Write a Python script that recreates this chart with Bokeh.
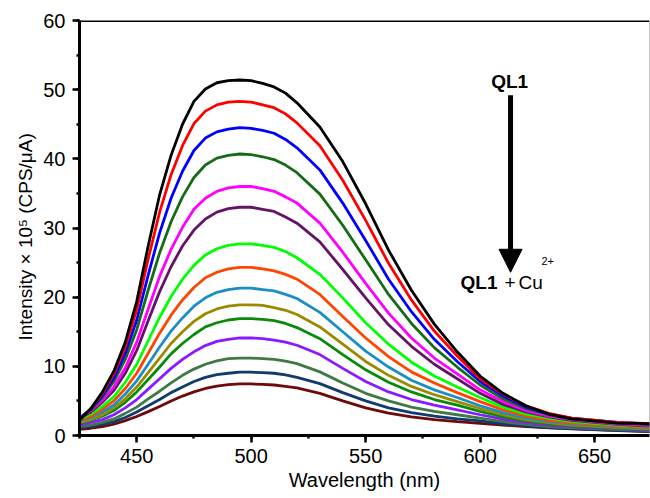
from bokeh.plotting import figure
from bokeh.models import Range1d, SingleIntervalTicker, Span, Arrow, NormalHead, Title
from bokeh.core.properties import value
from bokeh.embed import file_html
from bokeh.resources import INLINE

wavelength = [425, 430, 435, 440, 445, 450, 455, 460, 465, 470, 475, 480, 485, 490, 495,
              500, 505, 510, 515, 520, 530, 540, 550, 560, 570, 580, 590, 600, 610, 620,
              630, 640, 660, 675]

black = [2.2, 3.9, 6.3, 9.3, 13.5, 19.4, 27.4, 34.8, 40.5, 45.0, 48.3, 50.1, 51.0, 51.3, 51.4,
         51.3, 50.9, 50.4, 49.5, 48.1, 44.6, 39.6, 33.5, 26.8, 21.0, 16.1, 12.1, 8.6, 6.1, 4.3,
         3.1, 2.4, 1.8, 1.7]
red = [2.3, 3.9, 6.1, 8.9, 12.8, 18.2, 25.5, 32.3, 37.7, 41.9, 45.1, 46.9, 47.8, 48.2, 48.3,
       48.2, 47.8, 47.4, 46.5, 45.2, 41.9, 36.9, 31.1, 24.9, 19.6, 15.1, 11.5, 8.2, 6.0, 4.3,
       3.2, 2.5, 1.9, 1.7]
blue = [2.5, 3.8, 5.8, 8.3, 11.9, 16.7, 23.2, 29.3, 34.3, 38.2, 41.2, 43.0, 43.9, 44.3, 44.5,
        44.4, 44.1, 43.7, 42.8, 41.6, 38.4, 33.6, 28.2, 22.6, 17.9, 13.9, 10.7, 7.8, 5.7, 4.1,
        3.1, 2.5, 1.9, 1.65]
dark_green = [2.5, 3.7, 5.5, 7.8, 11.0, 15.3, 21.0, 26.4, 30.9, 34.5, 37.3, 39.1, 40.1, 40.5, 40.7,
              40.6, 40.3, 39.9, 39.1, 38.0, 34.9, 30.4, 25.4, 20.4, 16.2, 12.7, 9.9, 7.3, 5.3, 3.9,
              3.0, 2.4, 1.8, 1.55]
magenta = [2.5, 3.6, 5.1, 7.0, 9.8, 13.5, 18.3, 23.0, 26.9, 30.1, 32.7, 34.3, 35.3, 35.8, 36.0,
           36.0, 35.7, 35.3, 34.5, 33.6, 30.7, 26.5, 22.0, 17.7, 14.1, 11.2, 8.9, 6.6, 4.9, 3.6,
           2.8, 2.3, 1.7, 1.45]
purple = [2.5, 3.4, 4.8, 6.5, 9.0, 12.3, 16.6, 20.8, 24.4, 27.4, 29.7, 31.3, 32.3, 32.8, 33.0,
          33.0, 32.7, 32.4, 31.6, 30.7, 28.0, 24.0, 19.9, 16.0, 12.9, 10.3, 8.2, 6.1, 4.5, 3.4,
          2.7, 2.2, 1.6, 1.35]
lime = [2.4, 3.1, 4.2, 5.6, 7.7, 10.3, 13.7, 17.1, 20.1, 22.6, 24.6, 26.1, 27.0, 27.5, 27.7,
        27.7, 27.5, 27.2, 26.6, 25.7, 23.3, 19.9, 16.3, 13.2, 10.6, 8.6, 7.0, 5.5, 4.1, 3.1,
        2.5, 2.0, 1.5, 1.3]
orange_red = [2.2, 2.8, 3.8, 5.0, 6.8, 9.0, 11.9, 14.8, 17.4, 19.6, 21.4, 22.8, 23.6, 24.1, 24.3,
              24.3, 24.1, 23.8, 23.3, 22.6, 20.4, 17.2, 14.1, 11.4, 9.2, 7.6, 6.2, 4.9, 3.7, 2.8,
              2.2, 1.8, 1.35, 1.15]
steel_blue = [2.1, 2.6, 3.4, 4.4, 6.0, 7.9, 10.3, 12.8, 15.1, 17.0, 18.7, 19.9, 20.7, 21.1, 21.3,
              21.3, 21.1, 20.9, 20.4, 19.8, 17.8, 15.0, 12.2, 9.9, 8.0, 6.6, 5.5, 4.3, 3.3, 2.5,
              2.0, 1.65, 1.25, 1.05]
olive = [1.9, 2.3, 3.0, 4.0, 5.3, 7.0, 9.1, 11.2, 13.3, 15.0, 16.5, 17.6, 18.3, 18.7, 18.9,
         18.9, 18.8, 18.5, 18.1, 17.5, 15.7, 13.2, 10.7, 8.7, 7.1, 5.9, 4.9, 3.9, 3.0, 2.3,
         1.85, 1.5, 1.15, 0.95]
green = [1.8, 2.2, 2.8, 3.6, 4.8, 6.3, 8.1, 9.9, 11.8, 13.3, 14.6, 15.7, 16.3, 16.7, 16.9,
         16.9, 16.8, 16.6, 16.2, 15.6, 14.0, 11.7, 9.5, 7.7, 6.3, 5.2, 4.4, 3.5, 2.7, 2.1,
         1.7, 1.4, 1.05, 0.9]
violet = [1.5, 1.9, 2.3, 3.0, 4.0, 5.2, 6.7, 8.2, 9.7, 11.0, 12.1, 13.0, 13.6, 13.9, 14.1,
          14.1, 14.0, 13.8, 13.5, 13.05, 11.7, 9.7, 7.8, 6.3, 5.2, 4.4, 3.7, 3.0, 2.35, 1.85,
          1.5, 1.25, 0.95, 0.8]
gray_green = [1.3, 1.5, 1.9, 2.4, 3.2, 4.1, 5.3, 6.4, 7.6, 8.7, 9.6, 10.3, 10.8, 11.1, 11.2,
              11.2, 11.1, 11.0, 10.75, 10.4, 9.2, 7.6, 6.1, 5.0, 4.1, 3.5, 3.0, 2.5, 2.0, 1.6,
              1.3, 1.1, 0.85, 0.7]
navy = [1.1, 1.3, 1.6, 2.0, 2.6, 3.4, 4.3, 5.2, 6.2, 7.0, 7.8, 8.4, 8.8, 9.0, 9.15,
        9.15, 9.1, 9.0, 8.75, 8.4, 7.5, 6.2, 5.0, 4.0, 3.3, 2.8, 2.4, 2.1, 1.7, 1.4,
        1.15, 1.0, 0.75, 0.6]
maroon = [0.9, 1.05, 1.3, 1.65, 2.15, 2.75, 3.45, 4.2, 5.0, 5.7, 6.3, 6.8, 7.15, 7.35, 7.45,
          7.45, 7.4, 7.3, 7.1, 6.9, 6.1, 5.0, 4.0, 3.25, 2.7, 2.3, 2.0, 1.75, 1.5, 1.3,
          1.1, 0.95, 0.7, 0.55]

series = [black, red, blue, dark_green, magenta, purple, lime, orange_red,
          steel_blue, olive, green, violet, gray_green, navy, maroon]
colors = ["#000000", "#ff0000", "#0000ff", "#176b17", "#ff00ff", "#641464", "#00ff00", "#ff4500",
          "#1b8fc4", "#9a8a00", "#0a8a0a", "#8a1aff", "#3f7a45", "#0f3b6e", "#6e0a0a"]

FONT = "Liberation Sans"

p = figure(width=650, height=498, x_range=Range1d(425, 674), y_range=Range1d(0, 60),
           output_backend="svg", toolbar_location=None,
           min_border_left=79, min_border_right=1, min_border_top=20, min_border_bottom=63)
p.grid.visible = False
p.outline_line_color = None

for vals, col in reversed(list(zip(series, colors))):
    p.line(wavelength, vals, line_color=col, line_width=2.8)

p.xaxis.ticker = SingleIntervalTicker(interval=50, num_minor_ticks=2)
p.yaxis.ticker = SingleIntervalTicker(interval=10, num_minor_ticks=2)
for ax in (p.xaxis, p.yaxis):
    ax.axis_line_width = 3
    ax.axis_line_color = "black"
    ax.major_tick_line_width = 2.5
    ax.major_tick_line_color = "black"
    ax.major_tick_out = 7
    ax.major_tick_in = 0
    ax.minor_tick_line_width = 2.5
    ax.minor_tick_line_color = "black"
    ax.minor_tick_out = 3
    ax.minor_tick_in = 0
    ax.major_label_text_font = FONT
    ax.major_label_text_font_size = "20px"
    ax.major_label_text_color = "black"
    ax.axis_label_text_font = FONT
    ax.axis_label_text_font_style = "normal"
    ax.axis_label_text_color = "black"

p.xaxis.axis_label = "Wavelength (nm)"
p.xaxis.axis_label_text_font_size = "20px"
p.xaxis.major_label_standoff = 6
p.xaxis.axis_label_standoff = 3
p.yaxis.major_label_standoff = 7

p.add_layout(Title(text="Intensity × 10⁵ (CPS/μA)", align="left", offset=95, standoff=10,
                   text_font=FONT, text_font_size="19px", text_font_style="normal",
                   text_color="black"), "left")

p.add_layout(Span(location=60, dimension="width", line_color="black", line_width=3))
p.add_layout(Span(location=674, dimension="height", line_color="#888888", line_width=1))

p.add_layout(Arrow(x_start=613.3, y_start=49.2, x_end=613.3, y_end=23.6, line_width=5,
                   line_color="black",
                   end=NormalHead(size=23, fill_color="black", line_color="black", line_width=1)))

p.text(x=[612.9], y=[51.2], text=["QL1"], text_font=value(FONT), text_font_style="bold",
       text_font_size="19px", text_align="center", text_baseline="middle", text_color="black")
p.text(x=[607.6], y=[22.05], text=["QL1"], text_font=value(FONT), text_font_style="bold",
       text_font_size="19px", text_align="right", text_baseline="middle", text_color="black")
p.text(x=[613.1], y=[22.05], text=["+"], text_font=value(FONT),
       text_font_size="19px", text_align="center", text_baseline="middle", text_color="black")
p.text(x=[616.8], y=[22.05], text=["Cu"], text_font=value(FONT),
       text_font_size="19px", text_align="left", text_baseline="middle", text_color="black")
p.text(x=[626.8], y=[25.3], text=["2+"], text_font=value(FONT),
       text_font_size="11px", text_align="left", text_baseline="middle", text_color="black")

open("out.html", "w").write(file_html(p, INLINE))
